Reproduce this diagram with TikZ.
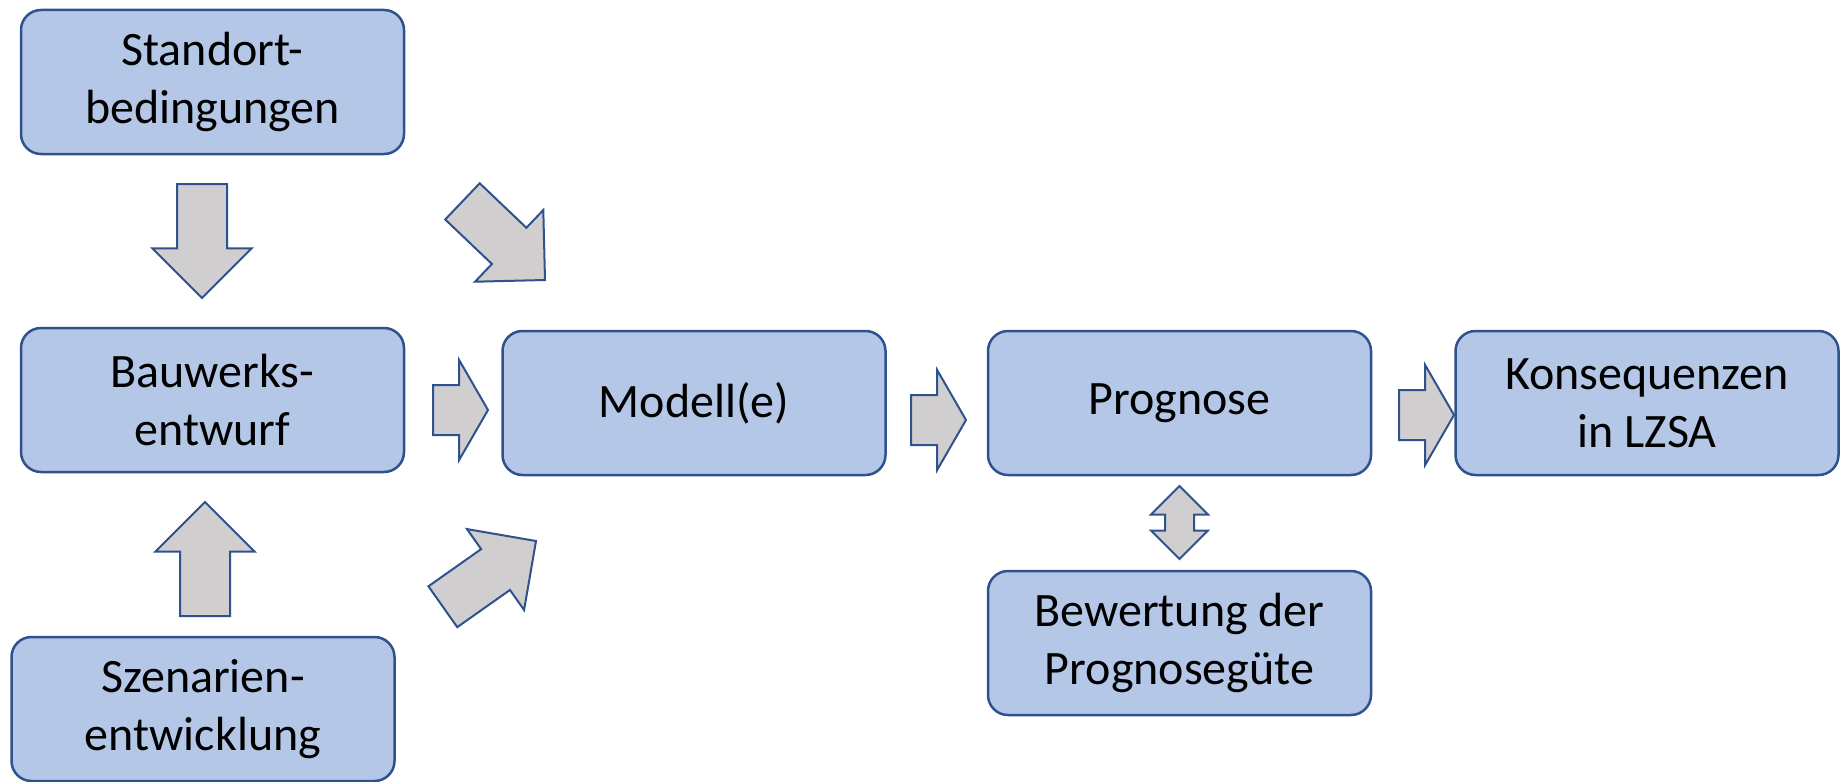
\documentclass[tikz,border=0pt]{standalone}
\usepackage{fontspec}
\setmainfont{Carlito}
\usepackage{xcolor}
\usepackage{tikz}
\usetikzlibrary{shapes.arrows}

\definecolor{boxfill}{HTML}{B4C7E7}
\definecolor{boxline}{HTML}{2F528F}
\definecolor{arrowfill}{HTML}{D0CECE}

\begin{document}
\begin{tikzpicture}[x=0.5pt,y=-0.5pt,
    box/.style={rectangle, rounded corners=10pt, draw=boxline, fill=boxfill,
      line width=1.25pt, minimum width=191.5pt, minimum height=72pt,
      align=center, font=\fontsize{24}{29}\selectfont},
    blockarrow/.style={single arrow, draw=boxline, fill=arrowfill,
      line width=1pt, inner xsep=0pt, outer sep=0pt},
    bigarrow/.style={blockarrow, minimum height=57pt, inner ysep=12pt,
      single arrow head extend=12.25pt, single arrow tip angle=90},
    smallarrow/.style={blockarrow, minimum height=27.5pt, inner ysep=12pt,
      single arrow head extend=12.5pt, single arrow tip angle=120}]
    \useasboundingbox (0,0) rectangle (1840,781);

    % boxes
    \node [box] (standort) at (212.5,82) {Standort-\\bedingungen};
    \node [box] (bauwerk) at (212.5,400) {Bauwerks-\\entwurf};
    \node [box] (szenario) at (203,709) {Szenarien-\\entwicklung};
    \node [box] (modell) at (694,403) {Modell(e)};
    \node [box] (prognose) at (1179.5,403) {Prognose};
    \node [box] (konsequenz) at (1647,403) {Konsequenzen\\in LZSA};
    \node [box] (bewertung) at (1179.5,643) {Bewertung der\\Prognoseg\"ute};

    % block arrows
    \node [bigarrow, rotate=-90, anchor=tip] (pfeilSB) at (202,298) {};
    \node [bigarrow, rotate=90, anchor=tip] (pfeilZB) at (205,502) {};
    \node [bigarrow, rotate=-43.6, anchor=tip] (pfeilSM) at (545,280) {};
    \node [bigarrow, rotate=35.2, anchor=tip] (pfeilZM) at (536,541) {};
    \node [smallarrow, anchor=tip] (pfeilBM) at (488,410) {};
    \node [smallarrow, anchor=tip] (pfeilMP) at (966,420) {};
    \node [smallarrow, anchor=tip] (pfeilPK) at (1454,415) {};
    \node [double arrow, draw=boxline, fill=arrowfill, line width=1pt,
      inner xsep=0pt, inner ysep=6.75pt, outer sep=0pt, minimum height=36.5pt,
      double arrow head extend=7pt, double arrow tip angle=90,
      rotate=90] (pfeilPB) at (1179.5,522.5) {};
\end{tikzpicture}
\end{document}
